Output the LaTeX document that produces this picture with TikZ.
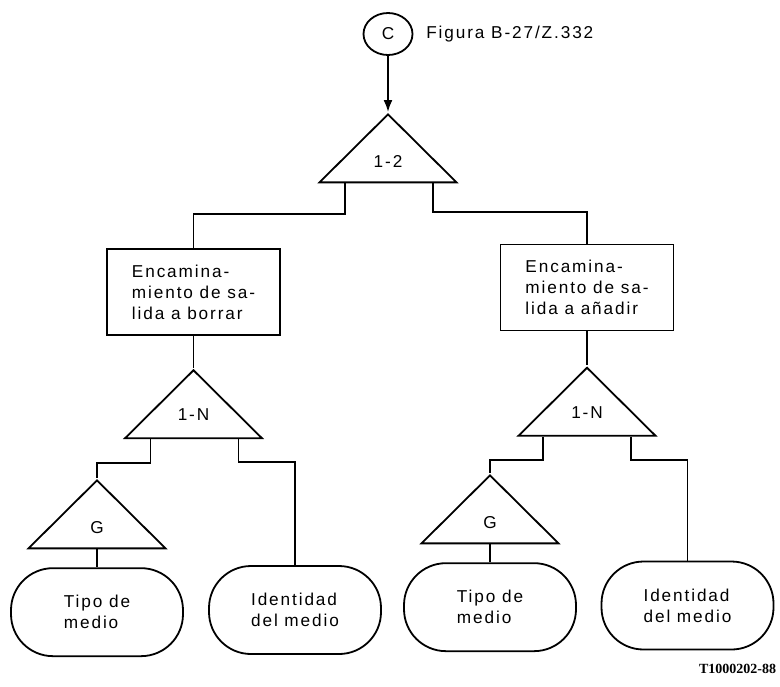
\documentclass[tikz,border=0pt]{standalone}
\usepackage{fontspec}
\setmainfont{Liberation Sans}[LetterSpace=11]
\newfontfamily\refnofont{Liberation Serif}
\usetikzlibrary{shapes.geometric,arrows.meta,positioning,calc}

\begin{document}
\begin{tikzpicture}[
    x=0.5pt, y=-0.5pt,
    font=\fontsize{8.6pt}{10.5pt}\selectfont,
    line width=0.9pt,
    connector/.style={draw, ellipse, minimum width=24.5pt, minimum height=21pt, inner sep=0pt},
    branch/.style={draw, isosceles triangle, isosceles triangle stretches, shape border rotate=90,
        minimum width=68.5pt, minimum height=34pt, inner sep=0pt},
    procbox/.style={draw, rectangle, minimum width=86.5pt, minimum height=43pt, align=left},
    leafbox/.style={draw, rectangle, rounded corners=21pt, minimum width=86pt, minimum height=44pt, align=left},
    tag/.style={inner sep=0pt}
]
\useasboundingbox (0,0) rectangle (780,686);

% Entry connector and figure reference
\node[connector] (entry) at (388,34) {C};
\node[tag, right=6pt of entry] (figref) {Figura B-27/Z.332};

% Top split
\node[branch, anchor=apex] (split) at (388,112) {};
\node[tag] (splittxt) at ($(split.apex)!0.7!(split.south)$) {1-2};
\draw[-{Latex[length=6pt,width=4.5pt]}] (entry) -- (split.apex);

% Output routing boxes
\node[procbox] (routedel) at (193.5,292) {Encamina-\\miento de sa-\\lida a borrar};
\node[procbox] (routeadd) at (587,287.5) {Encamina-\\miento de sa-\\lida a añadir};
\draw ($(split.south)+(-43,0)$) -- ++(0,31) -| (routedel);
\draw ($(split.south)+(45,0)$) -- ++(0,29) -| (routeadd);

% Left branch
\node[branch, anchor=apex] (manydel) at ($(routedel.south)+(0,32)$) {};
\node[tag] (manydeltxt) at ($(manydel.apex)!0.66!(manydel.south)$) {1-N};
\draw (routedel) -- (manydel.apex);

\node[branch, anchor=apex] (groupdel) at (97,478) {};
\node[tag] (groupdeltxt) at ($(groupdel.apex)!0.7!(groupdel.south)$) {G};
\node[leafbox, below=9pt of groupdel] (typedel) {Tipo de\\medio};
\node[leafbox] (iddel) at (295,610) {Identidad\\del medio};
\draw ($(manydel.south)+(-43,0)$) -- ++(0,24) -| (groupdel.apex);
\draw ($(manydel.south)+(45,0)$) -- ++(0,23) -| (iddel);
\draw (groupdel.south) -- (typedel);

% Right branch
\node[branch, anchor=apex] (manyadd) at ($(routeadd.south)+(0,34)$) {};
\node[tag] (manyaddtxt) at ($(manyadd.apex)!0.66!(manyadd.south)$) {1-N};
\draw (routeadd) -- (manyadd.apex);

\node[branch, anchor=apex] (groupadd) at (490,473) {};
\node[tag] (groupaddtxt) at ($(groupadd.apex)!0.7!(groupadd.south)$) {G};
\node[leafbox, below=9pt of groupadd] (typeadd) {Tipo de\\medio};
\node[leafbox] (idadd) at (687.5,605.5) {Identidad\\del medio};
\draw ($(manyadd.south)+(-44,0)$) -- ++(0,23) -| (groupadd.apex);
\draw ($(manyadd.south)+(44,0)$) -- ++(0,23) -| (idadd);
\draw (groupadd.south) -- (typeadd);

% Drawing number
\node[tag, anchor=east, font=\refnofont\bfseries\fontsize{7pt}{8pt}\selectfont] (drawno) at (777,669) {T1000202-88};
\end{tikzpicture}
\end{document}
